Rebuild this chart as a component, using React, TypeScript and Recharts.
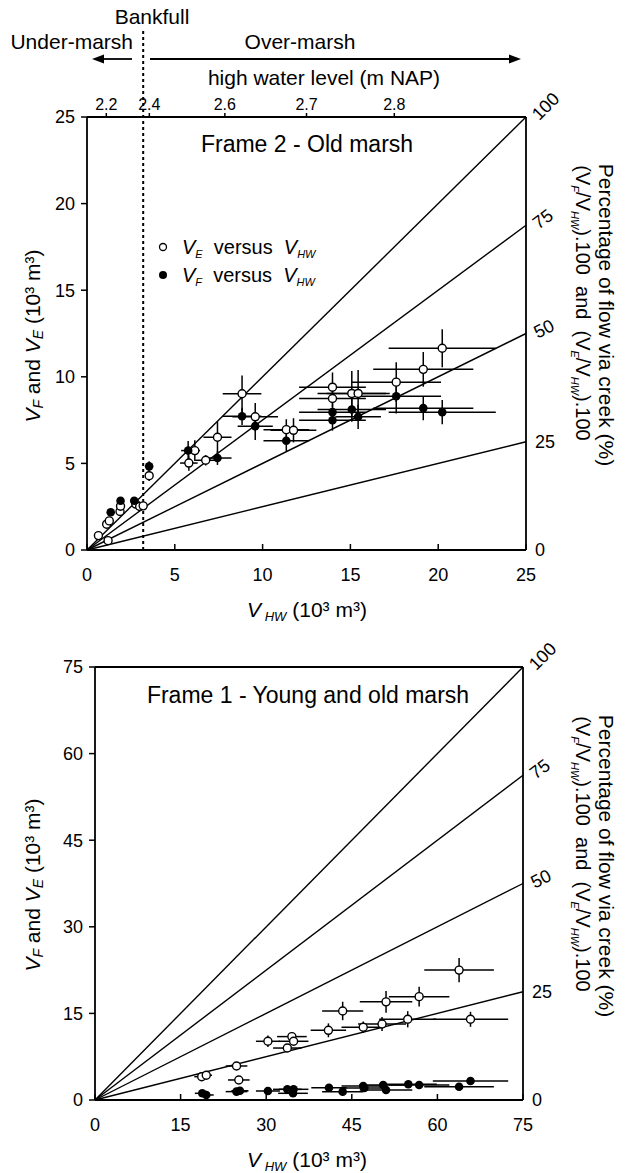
import React from 'react';
import { ScatterChart, Scatter, XAxis, YAxis, ErrorBar, ReferenceLine } from 'recharts';

const FONT = '"Liberation Sans", Arial, Helvetica, sans-serif';

// Frame 2 - Old marsh (10^3 m^3). open = VE, filled = VF
const f2OpenHW = [0.65, 1.2, 1.12, 1.27, 1.88, 1.91, 2.78, 3.0, 3.2, 3.54, 5.8, 6.14, 6.76, 7.43, 8.83, 9.58, 11.35, 11.76, 13.98, 13.98, 15.08, 15.44, 17.61, 19.15, 20.23];
const f2OpenE = [0.83, 0.54, 1.49, 1.68, 2.22, 2.53, 2.65, 2.51, 2.55, 4.29, 5.02, 5.74, 5.18, 6.51, 9.02, 7.69, 6.95, 6.91, 9.4, 8.75, 9.04, 9.04, 9.69, 10.43, 11.65];
const f2OpenHWErr = [0, 0, 0, 0, 0, 0, 0, 0, 0, 0, 0.5, 0.3, 0.6, 0.8, 1.1, 1.3, 1.3, 1.3, 1.9, 1.9, 1.95, 1.8, 2.55, 2.85, 3.05];
const f2OpenEErr = [0, 0, 0, 0, 0, 0, 0, 0, 0, 0.3, 0.45, 0.6, 0.3, 0.9, 1.05, 0.8, 0.6, 0.7, 0.85, 0.5, 1.3, 1.35, 1.15, 1.0, 1.1];

const f2FillHW = [1.35, 1.91, 2.69, 3.54, 5.76, 7.43, 8.83, 9.58, 11.35, 13.98, 13.98, 15.08, 15.44, 17.61, 19.15, 20.23];
const f2FillF = [2.18, 2.84, 2.84, 4.83, 5.74, 5.31, 7.72, 7.15, 6.31, 7.96, 7.49, 8.11, 7.69, 8.88, 8.19, 7.96];
const f2FillHWErr = [0, 0, 0, 0, 0.4, 0.8, 1.1, 1.0, 1.3, 1.9, 1.9, 1.95, 1.3, 2.55, 2.85, 3.05];
const f2FillFErr = [0, 0, 0, 0.3, 0.55, 0.4, 0.5, 0.8, 0.6, 0.5, 0.6, 0.7, 0.7, 1.0, 0.7, 0.7];

// Frame 1 - Young and old marsh
const f1OpenHW = [18.7, 19.5, 24.8, 25.2, 30.3, 34.5, 34.8, 33.7, 40.9, 43.4, 47.0, 50.3, 51.0, 54.8, 56.8, 63.8, 65.8];
const f1OpenE = [4.04, 4.28, 5.89, 3.47, 10.17, 10.98, 10.17, 9.0, 12.07, 15.42, 12.6, 13.17, 17.0, 13.98, 17.9, 22.5, 13.98];
const f1OpenHWErr = [1.3, 1.0, 1.9, 1.9, 2.1, 2.6, 2.6, 2.5, 3.1, 3.6, 3.8, 4.2, 4.6, 5.0, 5.3, 6.1, 6.6];
const f1OpenEErr = [0.5, 0, 0.5, 0, 1.0, 0.8, 0, 0, 1.2, 1.6, 1.0, 1.2, 1.9, 1.4, 1.7, 2.1, 1.3];

const f1FillHW = [18.8, 19.5, 24.8, 25.4, 30.3, 33.7, 34.8, 34.7, 41.0, 43.4, 47.0, 47.2, 50.5, 51.0, 54.9, 56.8, 63.8, 65.8];
const f1FillF = [1.16, 0.87, 1.45, 1.6, 1.56, 1.85, 1.85, 1.16, 2.13, 1.45, 2.43, 2.1, 2.6, 1.73, 2.72, 2.6, 2.3, 3.29];
const f1FillHWErr = [1.3, 1.3, 1.9, 1.5, 2.1, 2.5, 2.6, 2.6, 3.1, 3.6, 3.8, 3.8, 4.2, 4.6, 5.0, 5.3, 6.1, 6.6];
const f1FillFErr = [0, 0, 0, 0, 0, 0, 0, 0, 0, 0, 0, 0, 0, 0, 0, 0, 0, 0];

const flowPct = [100, 75, 50, 25];
const pctTicks = [0, 25, 50, 75, 100];
const pctTickAngles = [0, 0, 27, 37, 45];
const hwlLabels = ['2.2', '2.4', '2.6', '2.7', '2.8'];
const hwlAt = [1.1, 3.55, 7.85, 12.5, 17.5];
const bankfullAt = 3.2;
const f2Ticks = [0, 5, 10, 15, 20, 25];
const f1Ticks = [0, 15, 30, 45, 60, 75];

const SP = '\u00a0';

const zip = (x: number[], y: number[], ex: number[], ey: number[]) =>
  x.map((v, i) => ({ x: v, y: y[i], ex: ex[i], ey: ey[i] }));

const openDot = (p: any) => (
  <circle cx={p.cx} cy={p.cy} r={4} fill="#fff" stroke="#000" strokeWidth={1.4} />
);
const fillDot = (p: any) => <circle cx={p.cx} cy={p.cy} r={4.3} fill="#000" />;

const BottomTick = (p: any) => (
  <g>
    <line x1={p.x} x2={p.x} y1={p.y - 18} y2={p.y - 24} stroke="#000" strokeWidth={1.5} />
    <text x={p.x} y={p.y} dy="0.71em" textAnchor="middle" fontSize={18} fontFamily={FONT} fill="#000">
      {p.payload.value}
    </text>
  </g>
);

const HwlTick = (p: any) => {
  const i = hwlAt.indexOf(p.payload.value);
  return (
    <g>
      <line x1={p.x} x2={p.x} y1={p.y + 3} y2={p.y + 8} stroke="#000" strokeWidth={1.5} />
      <text x={p.x} y={p.y} textAnchor="middle" fontSize={16} fontFamily={FONT} fill="#000">
        {hwlLabels[i]}
      </text>
    </g>
  );
};

const PctTick = (p: any) => {
  const a = pctTickAngles[pctTicks.indexOf(p.payload.value)] || 0;
  return (
    <text
      x={p.x}
      y={p.y}
      transform={`rotate(${-a}, ${p.x}, ${p.y})`}
      dominantBaseline="central"
      fontSize={18}
      fontFamily={FONT}
      fill="#000"
    >
      {p.payload.value}
    </text>
  );
};

const tickStyle = { fill: '#000', fontSize: 18, fontFamily: FONT };
const axisLine = { stroke: '#000', strokeWidth: 1.8 };

function RightTitle({ cy }: { cy: number }) {
  return (
    <g fontFamily={FONT} fill="#000">
      <text transform={`translate(599, ${cy}) rotate(90)`} textAnchor="middle" fontSize={21}>
        Percentage of flow via creek (%)
      </text>
      <text transform={`translate(576, ${cy - 12}) rotate(90)`} textAnchor="middle" fontSize={20}>
        (V<tspan fontSize={11} fontStyle="italic" dy={5}>F</tspan>
        <tspan dy={-5}>/V</tspan>
        <tspan fontSize={11} fontStyle="italic" dy={5}>HW</tspan>
        <tspan dy={-5}>{`).100${SP}${SP}and${SP}${SP}(V`}</tspan>
        <tspan fontSize={11} fontStyle="italic" dy={5}>E</tspan>
        <tspan dy={-5}>/V</tspan>
        <tspan fontSize={11} fontStyle="italic" dy={5}>HW</tspan>
        <tspan dy={-5}>).100</tspan>
      </text>
    </g>
  );
}

function LeftTitle({ cy }: { cy: number }) {
  return (
    <text transform={`translate(40, ${cy}) rotate(-90)`} textAnchor="middle" fontSize={21} fontFamily={FONT} fill="#000">
      <tspan fontStyle="italic">V</tspan>
      <tspan fontSize={14} fontStyle="italic" dy={3}>F</tspan>
      <tspan dy={-3}> and </tspan>
      <tspan fontStyle="italic">V</tspan>
      <tspan fontSize={14} fontStyle="italic" dy={3}>E</tspan>
      <tspan dy={-3}> (10³ m³)</tspan>
    </text>
  );
}

function BottomTitle({ y }: { y: number }) {
  return (
    <text x={307} y={y} textAnchor="middle" fontSize={21} fontFamily={FONT} fill="#000">
      <tspan fontStyle="italic">V</tspan>
      <tspan fontSize={13} fontStyle="italic" dy={4}>{`${SP}HW`}</tspan>
      <tspan dy={-4}> (10³ m³)</tspan>
    </text>
  );
}

function LegendRow({ y, sub }: { y: number; sub: string }) {
  return (
    <text x={182} y={y}>
      <tspan fontStyle="italic">V</tspan>
      <tspan fontSize={11} fontStyle="italic" dy={4}>{sub}</tspan>
      <tspan dy={-4}>{`${SP}${SP}versus${SP}${SP}`}</tspan>
      <tspan fontStyle="italic">V</tspan>
      <tspan fontSize={11} fontStyle="italic" dy={4}>HW</tspan>
    </text>
  );
}

const overlayStyle: React.CSSProperties = {
  position: 'absolute',
  left: 0,
  top: 0,
  pointerEvents: 'none',
  overflow: 'visible'
};

function TopFrame() {
  const open = zip(f2OpenHW, f2OpenE, f2OpenHWErr, f2OpenEErr);
  const filled = zip(f2FillHW, f2FillF, f2FillHWErr, f2FillFErr);
  return (
    <div style={{ position: 'absolute', left: 0, top: 0, width: 627, height: 620 }}>
      <ScatterChart width={627} height={620} margin={{ top: 87, right: 0, bottom: 40, left: 0 }}>
        <XAxis
          dataKey="x"
          type="number"
          domain={[0, 25]}
          ticks={f2Ticks}
          interval={0}
          height={30}
          axisLine={axisLine}
          tickLine={false}
          tickSize={0}
          tickMargin={18}
          tick={(p: any) => <BottomTick {...p} />}
          allowDataOverflow
        />
        <XAxis
          xAxisId="top"
          dataKey="x"
          orientation="top"
          type="number"
          domain={[0, 25]}
          ticks={hwlAt}
          interval={0}
          height={30}
          axisLine={axisLine}
          tickLine={false}
          tickSize={0}
          tickMargin={7}
          tick={(p: any) => <HwlTick {...p} />}
          allowDataOverflow
        />
        <YAxis
          dataKey="y"
          type="number"
          domain={[0, 25]}
          ticks={f2Ticks}
          interval={0}
          width={87}
          axisLine={axisLine}
          tickLine={{ stroke: '#000', strokeWidth: 1.5 }}
          tickSize={6}
          tickMargin={6}
          tick={tickStyle}
          allowDataOverflow
        />
        <YAxis
          yAxisId="pct"
          orientation="right"
          type="number"
          domain={[0, 100]}
          ticks={pctTicks}
          interval={0}
          width={101}
          axisLine={axisLine}
          tickLine={false}
          tickSize={0}
          tickMargin={9}
          tick={(p: any) => <PctTick {...p} />}
          allowDataOverflow
        />
        {flowPct.map((k) => (
          <ReferenceLine
            key={k}
            segment={[{ x: 0, y: 0 }, { x: 25, y: (25 * k) / 100 }]}
            stroke="#000"
            strokeWidth={1.4}
          />
        ))}
        <ReferenceLine
          segment={[{ x: bankfullAt, y: 0 }, { x: bankfullAt, y: 30 }]}
          ifOverflow="visible"
          stroke="#000"
          strokeWidth={2}
          strokeDasharray="3 3"
        />
        <Scatter data={open} shape={openDot} isAnimationActive={false}>
          <ErrorBar dataKey="ex" direction="x" width={0} stroke="#000" strokeWidth={1.5} />
          <ErrorBar dataKey="ey" direction="y" width={0} stroke="#000" strokeWidth={1.5} />
        </Scatter>
        <Scatter xAxisId="top" data={filled} shape={fillDot} isAnimationActive={false}>
          <ErrorBar dataKey="ex" direction="x" width={0} stroke="#000" strokeWidth={1.5} />
          <ErrorBar dataKey="ey" direction="y" width={0} stroke="#000" strokeWidth={1.5} />
        </Scatter>
      </ScatterChart>
      <svg width={627} height={620} style={overlayStyle}>
        <g fontFamily={FONT} fill="#000" fontSize={21}>
          <text x={152} y={24} textAnchor="middle">Bankfull</text>
          <text x={133} y={49} textAnchor="end">Under-marsh</text>
          <text x={300} y={49} textAnchor="middle">Over-marsh</text>
          <text x={324} y={85} textAnchor="middle">high water level (m NAP)</text>
          <text x={307} y={152} textAnchor="middle" fontSize={23}>Frame 2 - Old marsh</text>
        </g>
        <line x1={132} x2={100} y1={59} y2={59} stroke="#000" strokeWidth={1.8} />
        <polygon points="92,59 104,54.5 104,63.5" fill="#000" />
        <line x1={150} x2={512} y1={59} y2={59} stroke="#000" strokeWidth={1.8} />
        <polygon points="521,59 509,54.5 509,63.5" fill="#000" />
        <circle cx={163} cy={247} r={3.5} fill="#fff" stroke="#000" strokeWidth={1.3} />
        <circle cx={163} cy={275} r={4} fill="#000" />
        <g fontFamily={FONT} fill="#000" fontSize={20}>
          <LegendRow y={254} sub="E" />
          <LegendRow y={282} sub="F" />
        </g>
        <LeftTitle cy={336} />
        <BottomTitle y={617} />
        <RightTitle cy={315} />
      </svg>
    </div>
  );
}

function BottomFrame() {
  const open = zip(f1OpenHW, f1OpenE, f1OpenHWErr, f1OpenEErr);
  const filled = zip(f1FillHW, f1FillF, f1FillHWErr, f1FillFErr);
  return (
    <div style={{ position: 'absolute', left: 0, top: 620, width: 627, height: 553 }}>
      <ScatterChart width={627} height={553} margin={{ top: 46, right: 0, bottom: 43, left: 0 }}>
        <XAxis
          dataKey="x"
          type="number"
          domain={[0, 75]}
          ticks={f1Ticks}
          interval={0}
          height={30}
          axisLine={axisLine}
          tickLine={false}
          tickSize={0}
          tickMargin={18}
          tick={(p: any) => <BottomTick {...p} />}
          allowDataOverflow
        />
        <XAxis
          xAxisId="top"
          orientation="top"
          type="number"
          domain={[0, 75]}
          height={1}
          axisLine={axisLine}
          tick={false}
          tickLine={false}
        />
        <YAxis
          dataKey="y"
          type="number"
          domain={[0, 75]}
          ticks={f1Ticks}
          interval={0}
          width={95}
          axisLine={axisLine}
          tickLine={{ stroke: '#000', strokeWidth: 1.5 }}
          tickSize={6}
          tickMargin={6}
          tick={tickStyle}
          allowDataOverflow
        />
        <YAxis
          yAxisId="pct"
          orientation="right"
          type="number"
          domain={[0, 100]}
          ticks={pctTicks}
          interval={0}
          width={104}
          axisLine={axisLine}
          tickLine={false}
          tickSize={0}
          tickMargin={9}
          tick={(p: any) => <PctTick {...p} />}
          allowDataOverflow
        />
        {flowPct.map((k) => (
          <ReferenceLine
            key={k}
            segment={[{ x: 0, y: 0 }, { x: 75, y: (75 * k) / 100 }]}
            stroke="#000"
            strokeWidth={1.4}
          />
        ))}
        <Scatter data={open} shape={openDot} isAnimationActive={false}>
          <ErrorBar dataKey="ex" direction="x" width={0} stroke="#000" strokeWidth={1.5} />
          <ErrorBar dataKey="ey" direction="y" width={0} stroke="#000" strokeWidth={1.5} />
        </Scatter>
        <Scatter data={filled} shape={fillDot} isAnimationActive={false}>
          <ErrorBar dataKey="ex" direction="x" width={0} stroke="#000" strokeWidth={1.5} />
          <ErrorBar dataKey="ey" direction="y" width={0} stroke="#000" strokeWidth={1.5} />
        </Scatter>
      </ScatterChart>
      <svg width={627} height={553} style={overlayStyle}>
        <text x={308} y={83} textAnchor="middle" fontSize={23} fontFamily={FONT} fill="#000">
          Frame 1 - Young and old marsh
        </text>
        <LeftTitle cy={265} />
        <BottomTitle y={547} />
        <RightTitle cy={246} />
      </svg>
    </div>
  );
}

export default function App() {
  return (
    <div style={{ position: 'absolute', left: 0, top: 0, width: 627, height: 1173, background: '#fff' }}>
      <TopFrame />
      <BottomFrame />
    </div>
  );
}
